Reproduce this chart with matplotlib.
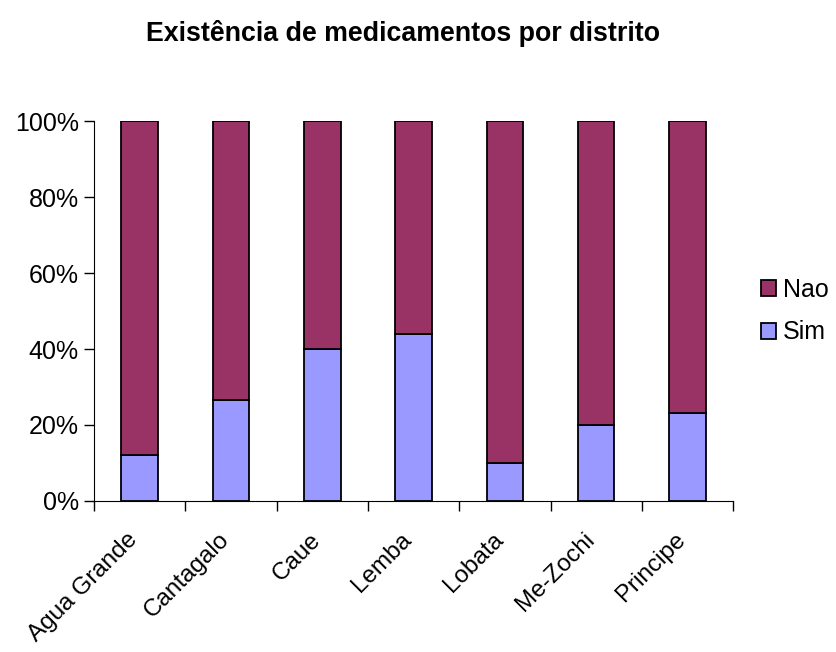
import numpy as np
import matplotlib.pyplot as plt
import matplotlib.transforms as mtransforms
from matplotlib.ticker import PercentFormatter

plt.rcParams['font.family'] = ['Liberation Sans', 'DejaVu Sans']

districts = ['Agua Grande', 'Cantagalo', 'Caue', 'Lemba', 'Lobata', 'Me-Zochi', 'Principe']
sim = np.array([12, 26.7, 40, 44, 10, 20, 23.1])
nao = 100 - sim

fig = plt.figure(figsize=(8.36, 6.52), dpi=100)
ax = fig.add_axes([0.1124, 0.2316, 0.7646, 0.5828])

x = np.arange(len(districts))
ax.bar(x, sim, width=0.4, color='#9999FF', edgecolor='black', linewidth=1.3, label='Sim')
ax.bar(x, nao, width=0.4, bottom=sim, color='#993366', edgecolor='black', linewidth=1.3, label='Nao')

ax.set_xlim(-0.5, len(districts) - 0.5)
ax.set_ylim(0, 100)
ax.set_yticks(np.arange(0, 101, 20))
ax.yaxis.set_major_formatter(PercentFormatter(decimals=0))

ax.set_xticks(x)
ax.set_xticklabels(districts, rotation=45, ha='right', rotation_mode='anchor')
ax.set_xticks(np.arange(-0.5, len(districts)), minor=True)
ax.tick_params(axis='x', which='major', length=0, pad=12, labelsize=17.5)
ax.tick_params(axis='x', which='minor', length=7, direction='out', width=1)
ax.tick_params(axis='y', length=7, direction='out', width=1, labelsize=18, pad=4)

# nudge the rotated labels down-left like the original
offset = mtransforms.ScaledTranslation(-0.13, -0.11, fig.dpi_scale_trans)
for lbl in ax.get_xticklabels():
    lbl.set_transform(lbl.get_transform() + offset)

ax.spines['top'].set_visible(False)
ax.spines['right'].set_visible(False)

fig.text(0.482, 0.949, 'Existência de medicamentos por distrito',
         ha='center', va='center', fontsize=19.3, fontweight='bold')

handles, labels = ax.get_legend_handles_labels()
ax.legend(handles[::-1], labels[::-1], loc='center left', bbox_to_anchor=(1.008, 0.5),
          frameon=False, fontsize=18, handlelength=0.6, handleheight=0.6,
          handletextpad=0.3, labelspacing=0.75)

fig.savefig('out.png', dpi=100)
